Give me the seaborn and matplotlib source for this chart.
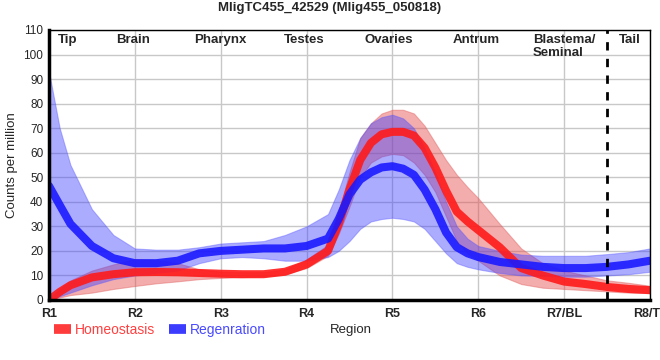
import numpy as np
import pandas as pd
import seaborn as sns
import matplotlib.pyplot as plt
from matplotlib.lines import Line2D

# x tick categories and the region names written along the top
regions = ["R1", "R2", "R3", "R4", "R5", "R6", "R7/BL", "R8/TT"]
parts = ["Tip", "Brain", "Pharynx", "Testes", "Ovaries", "Antrum", "Blastema/\nSeminal", "Tail"]
part_x = [0.22, 0.98, 2.0, 2.97, 3.96, 4.98, 6.0, 6.76]

# curves (position along the worm, in region units)
step = [0, 0.125, 0.25, 0.5, 0.75, 1, 1.25, 1.5, 1.75, 2, 2.25, 2.5, 2.75, 3, 3.25,
        3.375, 3.5, 3.625, 3.75, 3.875, 4, 4.125, 4.25, 4.375, 4.5, 4.625, 4.75, 4.875,
        5, 5.25, 5.5, 5.75, 6, 6.25, 6.5, 6.75, 7]

homeo_mean = [0, 3.3, 6, 9.2, 10.5, 11.3, 11.4, 11.3, 11, 10.7, 10.5, 10.5, 11.5, 14.5, 20,
              31, 45, 57, 64, 67.5, 68.5, 68.5, 67, 62, 54, 44.5, 36, 32,
              28.5, 21.5, 13, 10, 7.5, 6.5, 5.3, 4.5, 4]
homeo_lo = [0, 1, 2, 3, 4.5, 5.7, 6.8, 7.6, 8.5, 9, 9.3, 9.6, 10.5, 13, 18,
            27, 38, 50, 56, 58.5, 59.5, 59, 56, 51, 44, 34, 24, 19,
            16, 10, 6.5, 5, 4.5, 4, 3.5, 3, 2.8]
homeo_hi = [0.5, 4.5, 8, 12, 14.5, 16.7, 16.3, 15, 12.5, 11.5, 11.3, 11.3, 12.5, 16.5, 22.5,
            36, 52, 66, 72, 76, 77.5, 77.5, 76, 71, 64, 57, 51, 46,
            41.5, 31, 21, 15, 12, 10, 8, 7, 5.8]

regen_mean = [46.5, 38.7, 31, 22, 17, 15, 15, 16, 19, 20, 20.5, 21, 21, 22, 25,
              33, 43, 49, 52, 54, 54.5, 53.5, 51, 45, 37, 27.5, 21.5, 19,
              17.5, 15.5, 14.5, 13.5, 13, 13, 13.5, 14.5, 16]
regen_lo = [0, 1.5, 3, 6, 8.5, 10, 11, 12, 15, 17, 17.5, 17, 16, 16, 17.5,
            20, 24, 29, 32, 33, 33.5, 33, 32, 29, 24, 19, 15, 13.5,
            12.5, 11, 10, 9.8, 9.5, 9.5, 10, 10.5, 11.5]
regen_hi = [93, 70, 55, 37, 26.5, 21, 20.5, 20.5, 21.5, 23, 23.5, 24, 26.5, 30, 35,
            45, 57, 66, 72, 74.5, 75.5, 74, 70, 62, 52, 40, 30, 25,
            22, 20, 18.5, 18, 18, 18, 18.7, 19.5, 21]

df = pd.DataFrame({
    "pos": step + step,
    "cpm": homeo_mean + regen_mean,
    "cond": ["Homeostasis"] * len(step) + ["Regenration"] * len(step),
})

red = "#ff1a1a"
blue = "#1a1aff"

sns.set_style("whitegrid", {"grid.color": "#c8c8c8"})
plt.rcParams["font.family"] = ["Liberation Sans", "DejaVu Sans"]

fig = plt.figure(figsize=(6.6, 3.6), dpi=100)
ax = fig.add_axes([0.0742, 0.1667, 0.9106, 0.75])

# confidence bands
ax.fill_between(step, homeo_lo, homeo_hi, color="#e84a4a", alpha=0.45, lw=0.8,
                edgecolor="#e06060", zorder=2)
ax.fill_between(step, regen_lo, regen_hi, color="#3a3aff", alpha=0.42, lw=0.8,
                edgecolor="#5a5aff", zorder=2)

sns.lineplot(data=df, x="pos", y="cpm", hue="cond", palette=[red, blue],
             lw=5.8, alpha=0.9, legend=False, ax=ax, zorder=3)

ax.axvline(6.5, color="black", ls=(0, (3, 3)), lw=2, zorder=4)

ax.set_xlim(0, 7)
ax.set_ylim(0, 110)
ax.set_xticks(range(len(regions)))
ax.set_xticklabels(regions, fontsize=9, fontweight="bold")
ax.set_yticks(np.arange(0, 111, 10))
ax.tick_params(axis="y", labelsize=8.5, length=3, pad=1)
ax.tick_params(axis="x", length=4, pad=2)
ax.grid(True, color="#c8c8c8", lw=1)

for side in ["left", "bottom"]:
    ax.spines[side].set_linewidth(2.5)
for side in ["top", "right"]:
    ax.spines[side].set_linewidth(1)
for sp in ax.spines.values():
    sp.set_color("black")
    sp.set_zorder(5)

for name, x in zip(parts, part_x):
    ax.text(x, 108.5, name, ha="center", va="top", fontsize=9.5, fontweight="bold",
            multialignment="left", zorder=6)

ax.set_ylabel("Counts per million", fontsize=9.5, labelpad=4)
ax.set_xlabel("")
fig.text(0.532, 0.083, "Region", ha="center", va="center", fontsize=9.5)
fig.suptitle("MligTC455_42529 (Mlig455_050818)", fontsize=9.5, fontweight="bold", y=0.995)

handles = [Line2D([0], [0], color=red, lw=7, alpha=0.85, solid_capstyle="butt"),
           Line2D([0], [0], color=blue, lw=7, alpha=0.85, solid_capstyle="butt")]
fig.legend(handles, ["Homeostasis", "Regenration"], loc="center left",
           bbox_to_anchor=(0.063, 0.083), ncol=2, frameon=False, fontsize=10,
           handlelength=1.2, handletextpad=0.3, columnspacing=1.0,
           labelcolor=["#ff4040", "#4a4aff"])

fig.savefig("out.png", dpi=100)
